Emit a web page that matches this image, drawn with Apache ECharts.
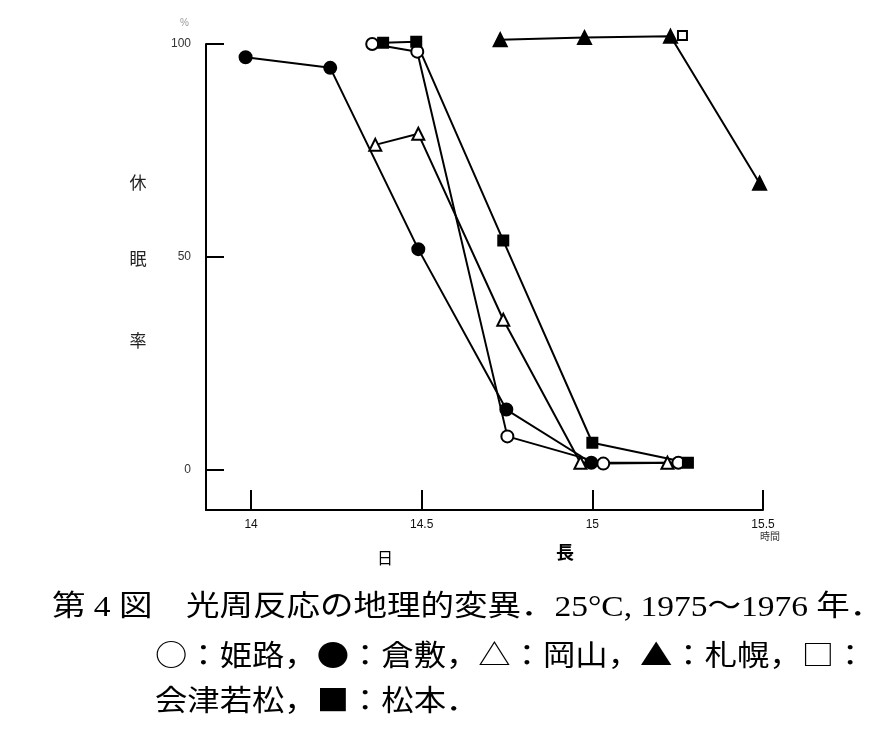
<!DOCTYPE html>
<html><head><meta charset="utf-8">
<script src="https://cdn.jsdelivr.net/npm/echarts@6/dist/echarts.min.js"></script>
<style>html,body{margin:0;padding:0;background:#fff}#c{width:879px;height:743px}</style>
</head><body><div id="c"></div>
<script>
// data: [day length (h), diapause rate (%)]
const himeji    = [[14.355,100],[14.487,98.2],[14.751,7.8],[15.032,1.4],[15.252,1.6]];
const kurashiki = [[13.984,96.9],[14.232,94.4],[14.49,51.8],[14.748,14.1],[14.997,1.6]];
const okayama   = [[14.364,76.3],[14.49,78.9],[14.739,35.2],[14.965,1.6],[15.22,1.6]];
const sapporo   = [[14.73,101],[14.977,101.5],[15.229,101.8],[15.49,67.3]];
const aizu      = [[15.264,102]];
const matsumoto = [[14.387,100.3],[14.484,100.5],[14.739,53.8],[15.0,6.3],[15.28,1.6]];
const xTicks = [14, 14.5, 15, 15.5];
const xTickLabels = ['14', '14.5', '15', '15.5'];
const yTicks = [0, 50, 100];
const yTickLabels = ['0', '50', '100'];

const chart = echarts.init(document.getElementById('c'));
const lineStyle = {color:'#000', width:2};
function mk(name, data, symbol, size, fill){
  return {name, type:'line', data, symbol, symbolSize:size, lineStyle, clip:false,
    itemStyle:{color:fill, borderColor:'#000', borderWidth:2}, z:3, animation:false};
}
const capFont = "'Liberation Serif','Noto Sans CJK JP'";
chart.setOption({
  animation:false,
  grid:{left:206, top:44, width:557, height:466},
  xAxis:{type:'value', min:13.868, max:15.5,
    axisLine:{onZero:false, lineStyle:{color:'#000', width:2}},
    axisTick:{inside:true, length:20, lineStyle:{color:'#000', width:2}, customValues:xTicks},
    axisLabel:{customValues:xTicks, formatter:v=>xTickLabels[xTicks.indexOf(v)], color:'#111',
      fontSize:12, fontFamily:'Liberation Sans', margin:9},
    splitLine:{show:false}},
  yAxis:{type:'value', min:-9.5, max:100,
    axisLine:{onZero:false, lineStyle:{color:'#000', width:2}},
    axisTick:{inside:true, length:18, lineStyle:{color:'#000', width:2}, customValues:yTicks},
    axisLabel:{customValues:yTicks, formatter:v=>yTickLabels[yTicks.indexOf(v)], color:'#333',
      fontSize:12, fontFamily:'Liberation Sans', margin:15},
    splitLine:{show:false}},
  series:[
    mk('姫路', himeji, 'circle', 12, '#fff'),
    mk('倉敷', kurashiki, 'circle', 12, '#000'),
    mk('岡山', okayama, 'triangle', 12, '#fff'),
    mk('札幌', sapporo, 'triangle', 13, '#000'),
    mk('会津若松', aizu, 'rect', 9, '#fff'),
    mk('松本', matsumoto, 'rect', 10, '#000')
  ],
  graphic:[
    {type:'text', left:180, top:18, style:{text:'%', fontSize:10, fill:'#999', fontFamily:'Liberation Sans'}},
    {type:'text', x:138, y:183, style:{text:'休', fontSize:17, fill:'#222', align:'center', verticalAlign:'middle', fontFamily:'Noto Sans CJK JP'}},
    {type:'text', x:138, y:259, style:{text:'眠', fontSize:17, fill:'#222', align:'center', verticalAlign:'middle', fontFamily:'Noto Sans CJK JP'}},
    {type:'text', x:138, y:341, style:{text:'率', fontSize:17, fill:'#222', align:'center', verticalAlign:'middle', fontFamily:'Noto Sans CJK JP'}},
    {type:'text', x:385, y:558, style:{text:'日', fontSize:16, fill:'#000', align:'center', verticalAlign:'middle', fontFamily:'Noto Sans CJK JP'}},
    {type:'text', x:565, y:552, style:{text:'長', fontSize:18, fill:'#000', align:'center', verticalAlign:'middle', fontFamily:'Noto Sans CJK JP', fontWeight:'bold'}},
    {type:'text', x:770, y:536, style:{text:'時間', fontSize:10, fill:'#333', align:'center', verticalAlign:'middle', fontFamily:'Noto Sans CJK JP'}},
    {type:'text', x:52, y:608, scaleX:1.155, style:{text:'第 4 図　光周反応の地理的変異．25°C, 1975～1976 年．', fontSize:29, fill:'#000', verticalAlign:'middle', fontFamily:capFont}},
    {type:'text', x:155, y:655, scaleX:1.115, style:{text:'○：姫路，●：倉敷，△：岡山，▲：札幌，□：', fontSize:29, fill:'#000', verticalAlign:'middle', fontFamily:'Noto Sans CJK JP'}},
    {type:'text', x:155, y:700, scaleX:1.115, style:{text:'会津若松，■：松本．', fontSize:29, fill:'#000', verticalAlign:'middle', fontFamily:'Noto Sans CJK JP'}}
  ]
});
</script></body></html>
